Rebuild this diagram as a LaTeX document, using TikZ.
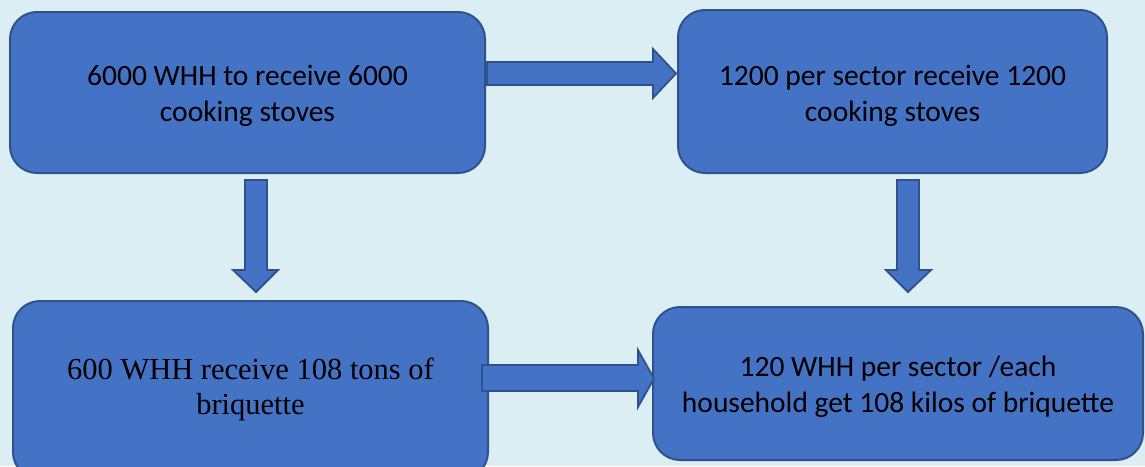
\documentclass[tikz,border=0pt]{standalone}
\usepackage{fontspec}
\setmainfont{Carlito}
\newfontfamily\serifbox{Liberation Serif}
\usetikzlibrary{calc}
\definecolor{bgcol}{HTML}{DAEEF3}
\definecolor{boxfill}{HTML}{4472C4}
\definecolor{boxline}{HTML}{2F528F}
\tikzset{
  flowbox/.style={draw=boxline, fill=boxfill, line width=2pt, rounded corners=27pt, inner sep=0pt},
  boxtext/.style={align=center, inner sep=0pt, text=black, font=\fontsize{29.5}{36}\selectfont},
  serifboxtext/.style={align=center, inner sep=0pt, text=black, font=\serifbox\fontsize{30.5}{35}\selectfont},
  blockarrow/.style={draw=boxline, fill=boxfill, line width=1.8pt, line join=miter}
}
\begin{document}
\begin{tikzpicture}[x=1pt,y=-1pt]
\fill[bgcol] (0,0) rectangle (1145,466);
\useasboundingbox (0,0) rectangle (1145,466);
\clip (0,0) rectangle (1145,466);
% boxes
\node[flowbox, minimum width=475pt, minimum height=161pt] (b1) at (247.5,92.5) {};
\node[flowbox, minimum width=429pt, minimum height=163pt] (b2) at (892.5,91.5) {};
\node[flowbox, minimum width=475pt, minimum height=178pt] (b3) at (250.5,390) {};
\node[flowbox, minimum width=490pt, minimum height=153pt] (b4) at (898,383.5) {};
% texts
\node[boxtext] (t1) at ($(b1.center)+(0,3)$) {6000 WHH to receive 6000\\cooking stoves};
\node[boxtext] (t2) at ($(b2.center)+(0,4)$) {1200 per sector receive 1200\\cooking stoves};
\node[serifboxtext] (t3) at ($(b3.center)+(0,0)$) {600 WHH receive 108 tons of\\briquette};
\node[boxtext] (t4) at ($(b4.center)+(0,3)$) {120 WHH per sector /each\\household get 108 kilos of briquette};
% block arrows
\draw[blockarrow] (487,62) -- (653,62) -- (653,49) -- (676,73.5) -- (653,98) -- (653,85) -- (487,85) -- cycle;
\draw[blockarrow] (245,180) -- (267,180) -- (267,270) -- (278,270) -- (256,292) -- (233,270) -- (245,270) -- cycle;
\draw[blockarrow] (897,180) -- (919,180) -- (919,270) -- (931,270) -- (908,292) -- (886,270) -- (897,270) -- cycle;
\draw[blockarrow] (482,365) -- (638,365) -- (638,350) -- (654,378.5) -- (638,407) -- (638,391) -- (482,391) -- cycle;
\end{tikzpicture}
\end{document}
